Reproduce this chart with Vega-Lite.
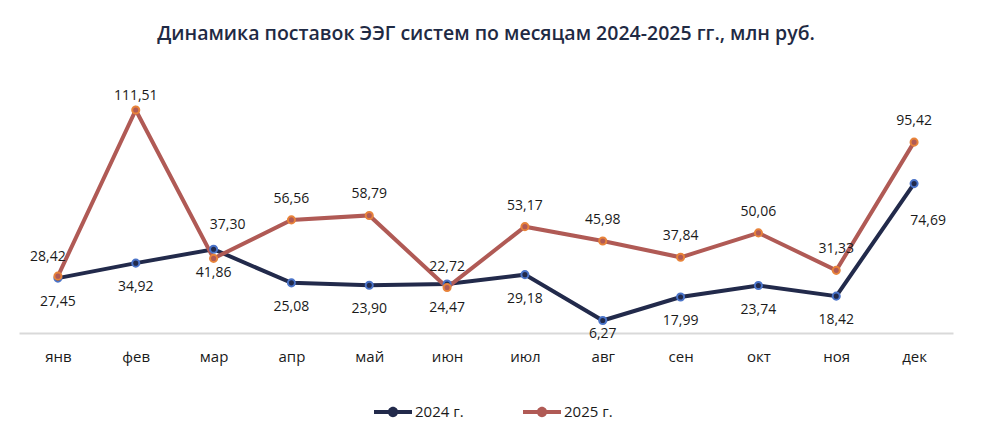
{
  "$schema": "https://vega.github.io/schema/vega-lite/v6.json",
  "width": 934,
  "height": 240,
  "autosize": {"type": "none"},
  "padding": {"left": 19, "right": 51, "top": 93, "bottom": 105},
  "background": "white",
  "config": {
    "view": {"stroke": null},
    "font": "Open Sans",
    "locale": {"number": {"decimal": ",", "thousands": "\u00a0", "grouping": [3], "currency": ["", " ₽"]}}
  },
  "title": {
    "text": "Динамика поставок ЭЭГ систем по месяцам 2024-2025 гг., млн руб.",
    "font": "Open Sans",
    "fontSize": 19.5,
    "fontWeight": 600,
    "color": "#1f2a44",
    "anchor": "middle",
    "offset": 44
  },
  "data": {
    "values": [
      {"month": "янв", "year": "2024 г.", "value": 27.45},
      {"month": "фев", "year": "2024 г.", "value": 34.92},
      {"month": "мар", "year": "2024 г.", "value": 41.86},
      {"month": "апр", "year": "2024 г.", "value": 25.08},
      {"month": "май", "year": "2024 г.", "value": 23.90},
      {"month": "июн", "year": "2024 г.", "value": 24.47},
      {"month": "июл", "year": "2024 г.", "value": 29.18},
      {"month": "авг", "year": "2024 г.", "value": 6.27},
      {"month": "сен", "year": "2024 г.", "value": 17.99},
      {"month": "окт", "year": "2024 г.", "value": 23.74},
      {"month": "ноя", "year": "2024 г.", "value": 18.42},
      {"month": "дек", "year": "2024 г.", "value": 74.69},
      {"month": "янв", "year": "2025 г.", "value": 28.42},
      {"month": "фев", "year": "2025 г.", "value": 111.51},
      {"month": "мар", "year": "2025 г.", "value": 37.30},
      {"month": "апр", "year": "2025 г.", "value": 56.56},
      {"month": "май", "year": "2025 г.", "value": 58.79},
      {"month": "июн", "year": "2025 г.", "value": 22.72},
      {"month": "июл", "year": "2025 г.", "value": 53.17},
      {"month": "авг", "year": "2025 г.", "value": 45.98},
      {"month": "сен", "year": "2025 г.", "value": 37.84},
      {"month": "окт", "year": "2025 г.", "value": 50.06},
      {"month": "ноя", "year": "2025 г.", "value": 31.33},
      {"month": "дек", "year": "2025 г.", "value": 95.42}
    ]
  },
  "encoding": {
    "x": {
      "field": "month",
      "type": "ordinal",
      "sort": ["янв", "фев", "мар", "апр", "май", "июн", "июл", "авг", "сен", "окт", "ноя", "дек"],
      "scale": {"type": "point", "padding": 0.5},
      "axis": {
        "title": null,
        "domainColor": "#d9d9d9",
        "domainWidth": 2,
        "ticks": false,
        "labelAngle": 0,
        "labelFont": "Open Sans",
        "labelFontSize": 15,
        "labelColor": "#1a1a1a",
        "labelPadding": 16
      }
    },
    "y": {
      "field": "value",
      "type": "quantitative",
      "scale": {"domain": [0, 120], "nice": false, "zero": true},
      "axis": null
    }
  },
  "layer": [
    {
      "mark": {"type": "line", "strokeWidth": 4},
      "encoding": {
        "color": {
          "field": "year",
          "type": "nominal",
          "scale": {"domain": ["2024 г.", "2025 г."], "range": ["#222a4b", "#b05a55"]},
          "legend": {
            "title": null,
            "orient": "none",
            "direction": "horizontal",
            "legendX": 355,
            "legendY": 300,
            "padding": 0,
            "symbolType": "M-1,-0.11L1,-0.11L1,0.11L-1,0.11Z M0.27,0A0.27,0.27,0,1,1,-0.27,0A0.27,0.27,0,1,1,0.27,0Z",
            "symbolSize": 1444,
            "symbolStrokeWidth": 0,
            "symbolOpacity": 1,
            "labelFont": "Open Sans",
            "labelFontSize": 15,
            "labelColor": "#1a1a1a",
            "labelOffset": 3,
            "columnPadding": 59
          }
        }
      }
    },
    {
      "mark": {"type": "point", "filled": true, "size": 50, "strokeWidth": 2, "opacity": 1},
      "encoding": {
        "color": {"field": "year", "type": "nominal", "legend": null},
        "stroke": {
          "field": "year",
          "type": "nominal",
          "scale": {"domain": ["2024 г.", "2025 г."], "range": ["#4a73c8", "#e8833a"]},
          "legend": null
        }
      }
    },
    {
      "transform": [{"filter": "datum.year == '2025 г.' && datum.month != 'янв' && datum.month != 'фев' && datum.month != 'мар'"}],
      "mark": {"type": "text", "dy": -21, "fontSize": 14, "font": "Open Sans", "color": "#1a1a1a"},
      "encoding": {"text": {"field": "value", "type": "quantitative", "format": ".2f"}}
    },
    {
      "transform": [{"filter": "datum.year == '2025 г.' && datum.month == 'янв'"}],
      "mark": {"type": "text", "dx": -10, "dy": -19, "fontSize": 14, "font": "Open Sans", "color": "#1a1a1a"},
      "encoding": {"text": {"field": "value", "type": "quantitative", "format": ".2f"}}
    },
    {
      "transform": [{"filter": "datum.year == '2025 г.' && datum.month == 'фев'"}],
      "mark": {"type": "text", "dy": -14, "fontSize": 14, "font": "Open Sans", "color": "#1a1a1a"},
      "encoding": {"text": {"field": "value", "type": "quantitative", "format": ".2f"}}
    },
    {
      "transform": [{"filter": "datum.year == '2025 г.' && datum.month == 'мар'"}],
      "mark": {"type": "text", "dx": 14, "dy": -33, "fontSize": 14, "font": "Open Sans", "color": "#1a1a1a"},
      "encoding": {"text": {"field": "value", "type": "quantitative", "format": ".2f"}}
    },
    {
      "transform": [{"filter": "datum.year == '2024 г.' && datum.month != 'дек' && datum.month != 'авг'"}],
      "mark": {"type": "text", "dy": 24, "fontSize": 14, "font": "Open Sans", "color": "#1a1a1a"},
      "encoding": {"text": {"field": "value", "type": "quantitative", "format": ".2f"}}
    },
    {
      "transform": [{"filter": "datum.year == '2024 г.' && datum.month == 'авг'"}],
      "mark": {"type": "text", "dy": 14, "fontSize": 14, "font": "Open Sans", "color": "#1a1a1a"},
      "encoding": {"text": {"field": "value", "type": "quantitative", "format": ".2f"}}
    },
    {
      "transform": [{"filter": "datum.year == '2024 г.' && datum.month == 'дек'"}],
      "mark": {"type": "text", "dx": 14, "dy": 37, "fontSize": 14, "font": "Open Sans", "color": "#1a1a1a"},
      "encoding": {"text": {"field": "value", "type": "quantitative", "format": ".2f"}}
    }
  ]
}
